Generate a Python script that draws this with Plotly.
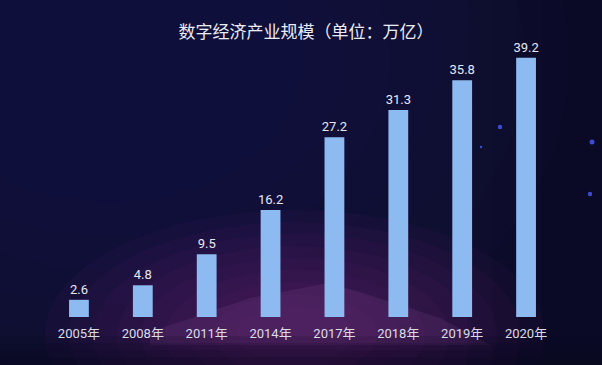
import plotly.graph_objects as go

# ---- data ----
years = ["2005年", "2008年", "2011年", "2014年", "2017年", "2018年", "2019年", "2020年"]
values = [2.6, 4.8, 9.5, 16.2, 27.2, 31.3, 35.8, 39.2]
value_labels = ["2.6", "4.8", "9.5", "16.2", "27.2", "31.3", "35.8", "39.2"]
title_text = "数字经济产业规模（单位：万亿）"

W, H = 602, 365
ML, MR, MT, MB = 47, 44, 40, 48
PW, PH = W - ML - MR, H - MT - MB


def px(x):
    return (x - ML) / PW


def py(y):
    return (H - MB - y) / PH


fig = go.Figure()
fig.add_trace(go.Bar(
    x=years, y=values,
    text=value_labels, textposition="outside", constraintext="none",
    textfont=dict(color="#e8e8f2", size=13, family="Roboto, Noto Sans CJK SC"),
    marker=dict(color="#8dbaf0", line=dict(width=0)),
    cliponaxis=False,
    hoverinfo="skip",
))

shapes = []
# navy glow upper-left
for k in range(8):
    r = 460 - k * 45
    cx, cy = 110, 60
    shapes.append(dict(type="circle", xref="paper", yref="paper",
                       x0=px(cx - r), x1=px(cx + r), y0=py(cy + r * 0.75), y1=py(cy - r * 0.75),
                       fillcolor="#221d58", opacity=0.07, line=dict(width=0), layer="below"))
# purple glow bottom centre
for k in range(9):
    r = 250 - k * 24
    cx, cy = 295, 335
    shapes.append(dict(type="circle", xref="paper", yref="paper",
                       x0=px(cx - r), x1=px(cx + r), y0=py(cy + r * 0.5), y1=py(cy - r * 0.5),
                       fillcolor="#7a2f86", opacity=0.07, line=dict(width=0), layer="below"))
# faint mountain shape
mx = [150, 250, 328, 360, 440, 490, 150]
my = [332, 298, 283, 292, 318, 345, 345]
path = "M " + " L ".join(f"{px(a)},{py(b)}" for a, b in zip(mx, my)) + " Z"
shapes.append(dict(type="path", xref="paper", yref="paper", path=path,
                   fillcolor="#9a5aa8", opacity=0.14, line=dict(width=0), layer="below"))
# darker bottom band
for k in range(4):
    shapes.append(dict(type="rect", xref="paper", yref="paper",
                       x0=px(-5), x1=px(W + 5), y0=py(H + 5), y1=py(365 - 8 - k * 7),
                       fillcolor="#04041a", opacity=0.15, line=dict(width=0), layer="below"))
# darker right edge
for k in range(4):
    shapes.append(dict(type="rect", xref="paper", yref="paper",
                       x0=px(W - 60 - k * 25), x1=px(W + 5), y0=py(H + 5), y1=py(-5),
                       fillcolor="#05051c", opacity=0.1, line=dict(width=0), layer="below"))
# stars
for sx, sy, sr in [(500, 127, 2.2), (592, 142, 2.5), (590, 194, 2.2), (481, 147, 1.2)]:
    shapes.append(dict(type="circle", xref="paper", yref="paper",
                       x0=px(sx - sr), x1=px(sx + sr), y0=py(sy + sr), y1=py(sy - sr),
                       fillcolor="#4a5cff", opacity=0.8, line=dict(width=0), layer="below"))

fig.update_layout(
    width=W, height=H,
    margin=dict(l=ML, r=MR, t=MT, b=MB, pad=0),
    paper_bgcolor="#0e0d2e",
    plot_bgcolor="rgba(0,0,0,0)",
    title=dict(text=title_text, x=306 / W, xanchor="center", y=1 - 32 / H, yanchor="middle",
               font=dict(color="#ececf4", size=17, family="Noto Sans CJK SC")),
    bargap=0.69,
    showlegend=False,
    shapes=shapes,
    xaxis=dict(showgrid=False, zeroline=False, showline=False, ticks="",
               ticklabelstandoff=7,
               tickfont=dict(color="#dcdce8", size=13, family="Roboto, Noto Sans CJK SC"),
               fixedrange=True),
    yaxis=dict(range=[0, 41.9], visible=False, showgrid=False, zeroline=False, fixedrange=True),
)

fig.write_html(
    "out.html",
    config={"displayModeBar": False},
    post_script="document.body.style.margin='0';document.body.style.overflow='hidden';"
                "document.body.style.background='#0e0d2e';",
)
